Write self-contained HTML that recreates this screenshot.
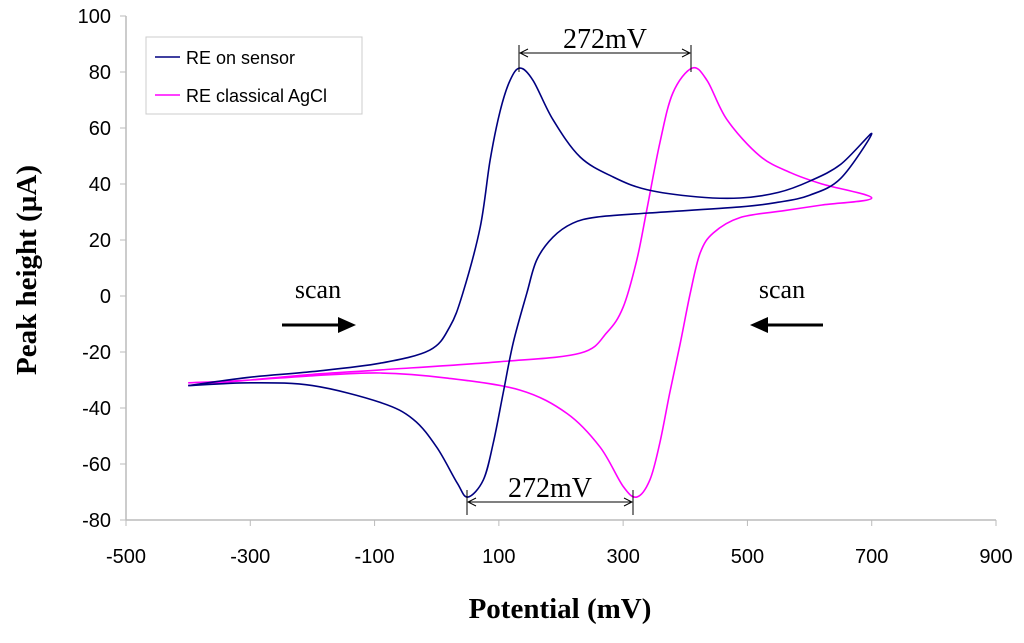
<!DOCTYPE html>
<html><head><meta charset="utf-8"><style>
body{margin:0;background:#fff;}
svg text{font-family:"Liberation Sans",sans-serif;}
.serif{font-family:"Liberation Serif",serif !important;}
</style></head><body>
<svg id="chart" width="1024" height="638" xmlns="http://www.w3.org/2000/svg">
<g id="axes"></g>
<g id="series"></g>
</svg>
<script>
const xTicks=[-500,-300,-100,100,300,500,700,900];
const yTicks=[-80,-60,-40,-20,0,20,40,60,80,100];
const sensorX=[-400,-300,-200,-91,-11,21,42,70,86,102,118,134,155,187,231,284,338,419,488,550,600,650,700,650,600,550,488,338,258,219,187,161,145,123,107,91,75,50,33,0,-38,-91,-200,-300,-400];
const sensorY=[-32,-29,-27,-24,-19.3,-11,1,24.6,48.6,66,77,81.4,77,63,49.6,42.5,38,35.4,35,37,41,47,58,42,36,33.5,31.8,29.6,28.2,26,21,12.9,1,-16.8,-34.6,-52.5,-65.7,-71.8,-66.8,-54,-44,-38,-32,-31,-32];
const agclX=[-400,-300,-200,-91,100,231,274,300,322,338,359,380,411,435,467,520,570,620,700,620,560,488,445,424,408,392,375,359,343,322,300,263,210,134,16,-91,-200,-300,-400];
const agclY=[-32,-30,-28,-26.4,-23.5,-20.4,-13,-4,12.9,30.7,54.6,72.5,81.4,77,63,50,44,40,35,32.5,30.5,28,22.5,15.4,1,-16.8,-34.6,-52.5,-65.7,-71.8,-68,-54,-42,-33.6,-29.3,-27.5,-28.5,-30,-31];
const NS="http://www.w3.org/2000/svg";
const X0=126,X1=996,Y0=520,Y1=16;
const sx=v=>X0+(v+500)/1400*(X1-X0);
const sy=v=>Y0-(v+80)/180*(Y0-Y1);
function mk(tag,attrs,parent,text){const e=document.createElementNS(NS,tag);for(const k in attrs)e.setAttribute(k,attrs[k]);if(text!==undefined)e.textContent=text;parent.appendChild(e);return e;}
const axes=document.getElementById('axes');
let ax=mk('line',{x1:X0,y1:Y1,x2:X0,y2:Y0,stroke:'#bbb','stroke-width':1.5},axes);

ax=mk('line',{x1:X0,y1:Y0,x2:X1,y2:Y0,stroke:'#bbb','stroke-width':1.5},axes);

xTicks.forEach(v=>{
 const t=mk('line',{x1:sx(v),y1:Y0,x2:sx(v),y2:Y0+6,stroke:'#bbb'},axes);
 
 const l=mk('text',{x:sx(v),y:Y0+43,'text-anchor':'middle','font-size':20},axes,String(v));
 
});
yTicks.forEach(v=>{
 const t=mk('line',{x1:X0-6,y1:sy(v),x2:X0,y2:sy(v),stroke:'#bbb'},axes);
 
 const l=mk('text',{x:X0-15,y:sy(v)+7,'text-anchor':'end','font-size':20},axes,String(v));
 
});
let tt=mk('text',{x:560,y:618,'text-anchor':'middle','font-size':29,'font-weight':'bold',class:'serif'},axes,'Potential (mV)');

tt=mk('text',{x:0,y:0,transform:'translate(36,270) rotate(-90)','text-anchor':'middle','font-size':29,'font-weight':'bold',class:'serif'},axes,'Peak height (µA)');

function path(xs,ys){
 const p=xs.map((x,i)=>[sx(x),sy(ys[i])]);
 let d='M'+p[0][0]+','+p[0][1];
 for(let i=0;i<p.length-1;i++){
  const a=p[Math.max(0,i-1)],b=p[i],c=p[i+1],e=p[Math.min(p.length-1,i+2)];
  const k=1/6;
  const c1=[b[0]+(c[0]-a[0])*k,b[1]+(c[1]-a[1])*k],c2=[c[0]-(e[0]-b[0])*k,c[1]-(e[1]-b[1])*k];
  d+=`C${c1[0]},${c1[1]} ${c2[0]},${c2[1]} ${c[0]},${c[1]}`;
 }
 return d;
}
const ser=document.getElementById('series');
let s=mk('path',{d:path(agclX,agclY),fill:'none',stroke:'#ff00ff','stroke-width':1.6},ser);

s=mk('path',{d:path(sensorX,sensorY),fill:'none',stroke:'#000080','stroke-width':1.6},ser);

</script>
<svg style="position:absolute;left:0;top:0" width="1024" height="638" xmlns="http://www.w3.org/2000/svg">
<defs><marker id="ah" markerWidth="10" markerHeight="10" refX="9" refY="5" orient="auto-start-reverse"><path d="M1,1 L9,5 L1,9" fill="none" stroke="#000" stroke-width="1"/></marker></defs>
<g>
<rect x="146" y="37" width="216" height="77" fill="#fff" stroke="#ccc" stroke-width="1"/>
<line x1="155" y1="57" x2="180" y2="57" stroke="#000080" stroke-width="1.5"/>
<text x="186" y="64" font-size="18">RE on sensor</text>
<line x1="155" y1="95" x2="180" y2="95" stroke="#ff00ff" stroke-width="1.5"/>
<text x="186" y="102" font-size="18">RE classical AgCl</text>
</g>
<g>
<line x1="519" y1="45" x2="519" y2="72" stroke="#000"/><line x1="691" y1="45" x2="691" y2="72" stroke="#000"/>
<line x1="520" y1="53" x2="690" y2="53" stroke="#000" marker-start="url(#ah)" marker-end="url(#ah)"/>
<text class="serif" x="605" y="48" text-anchor="middle" font-size="28">272mV</text>
</g>
<g>
<line x1="467" y1="490" x2="467" y2="515" stroke="#000"/><line x1="633" y1="490" x2="633" y2="515" stroke="#000"/>
<line x1="468" y1="502" x2="632" y2="502" stroke="#000" marker-start="url(#ah)" marker-end="url(#ah)"/>
<text class="serif" x="550" y="497" text-anchor="middle" font-size="28">272mV</text>
</g>
<g>
<text class="serif" x="318" y="298" text-anchor="middle" font-size="26">scan</text>
<line x1="282" y1="325" x2="340" y2="325" stroke="#000" stroke-width="3"/><polygon points="338,317 356,325 338,333" fill="#000"/>
</g>
<g>
<text class="serif" x="782" y="298" text-anchor="middle" font-size="26">scan</text>
<line x1="823" y1="325" x2="766" y2="325" stroke="#000" stroke-width="3"/><polygon points="768,317 750,325 768,333" fill="#000"/>
</g>
</svg>
</body></html>
